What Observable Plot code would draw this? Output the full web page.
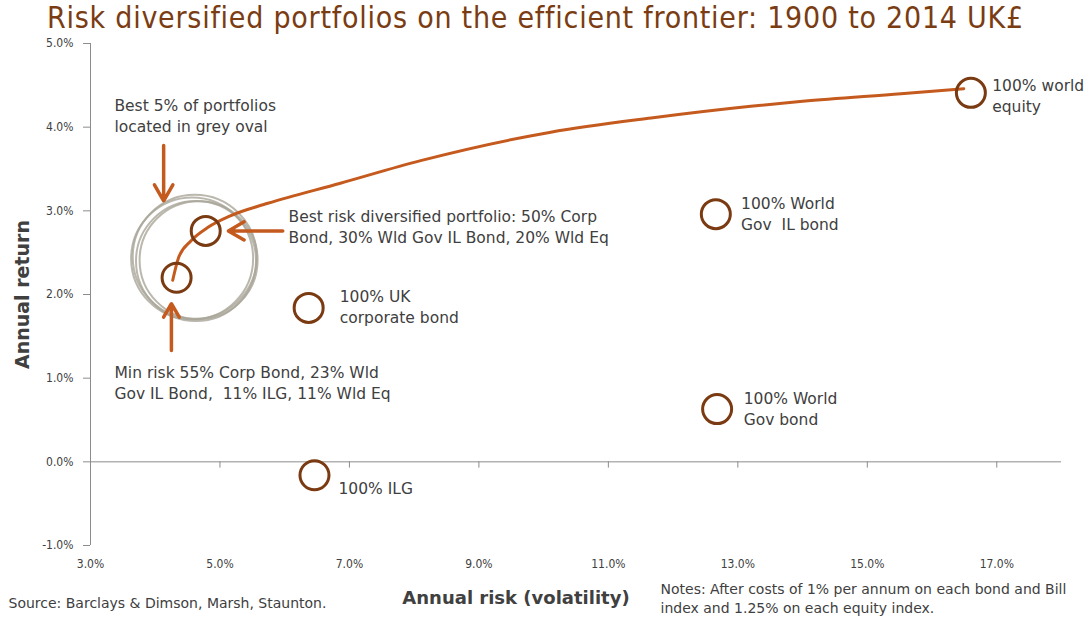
<!DOCTYPE html>
<html><head><meta charset="utf-8">
<script src="https://cdn.jsdelivr.net/npm/d3@7"></script>
<script src="https://cdn.jsdelivr.net/npm/@observablehq/plot@0.6"></script>
<style>
body{margin:0;background:#fff;}
#title{height:30px;box-sizing:border-box;padding:3px 0 0 47px;font-family:'DejaVu Sans Condensed','DejaVu Sans',sans-serif;font-size:30px;letter-spacing:0.75px;line-height:30px;color:#7a3c12;white-space:nowrap;overflow:visible;}
</style></head><body>
<div id="title">Risk diversified portfolios on the efficient frontier: 1900 to 2014 UK£</div>
<div id="chart"></div>
<script>
// Portfolios (annual risk %, annual return %)
const portfolioNames = ["100% world equity", "100% World Gov IL bond", "100% UK corporate bond", "100% World Gov bond", "100% ILG", "Best risk diversified", "Min risk"];
const portfolioRisk = [16.60, 12.66, 6.37, 12.68, 6.46, 4.78, 4.33];
const portfolioReturn = [4.41, 2.96, 1.84, 0.63, -0.16, 2.76, 2.20];

// Efficient frontier
const frontierRisk = [4.27, 4.36, 4.55, 4.81, 5.16, 5.74, 6.86, 8.10, 10.11, 11.66, 13.20, 14.00, 15.52, 16.49];
const frontierReturn = [2.17, 2.44, 2.64, 2.80, 2.94, 3.09, 3.33, 3.60, 3.94, 4.11, 4.25, 4.31, 4.40, 4.46];

// Grey oval (best 5% region) centres
const ovalRisk = [4.61, 4.67, 4.57, 4.63];
const ovalReturn = [2.45, 2.41, 2.43, 2.40];

// Annotation arrows
const arrowX1 = [4.13, 5.97, 4.25];
const arrowY1 = [3.78, 2.76, 1.33];
const arrowX2 = [4.13, 5.13, 4.25];
const arrowY2 = [3.12, 2.76, 1.89];

// Labels
const labelText = [
  "Best 5% of portfolios\nlocated in grey oval",
  "Best risk diversified portfolio: 50% Corp\nBond, 30% Wld Gov IL Bond, 20% Wld Eq",
  "100% UK\ncorporate bond",
  "Min risk 55% Corp Bond, 23% Wld\nGov IL Bond,  11% ILG, 11% Wld Eq",
  "100% world\nequity",
  "100% World\nGov  IL bond",
  "100% World\nGov bond",
  "100% ILG"
];
const labelRisk = [3.37, 6.06, 6.85, 3.37, 16.93, 13.05, 13.09, 6.83];
const labelReturn = [4.375, 3.045, 2.085, 1.185, 4.615, 3.195, 0.865, -0.205];

const xTicks = [3, 5, 7, 9, 11, 13, 15, 17];
const yTicks = [-1, 0, 1, 2, 3, 4, 5];

const portfolios = portfolioNames.map((n, i) => ({name: n, x: portfolioRisk[i], y: portfolioReturn[i]}));
const frontier = frontierRisk.map((x, i) => ({x, y: frontierReturn[i]}));
const ovals = ovalRisk.map((x, i) => ({x, y: ovalReturn[i], i}));
const arrows = arrowX1.map((x1, i) => ({x1, y1: arrowY1[i], x2: arrowX2[i], y2: arrowY2[i]}));
const labels = labelText.map((t, i) => ({t, x: labelRisk[i], y: labelReturn[i]}));

const pct = d => d.toFixed(1) + "%";
const FONT = "'DejaVu Sans Condensed','DejaVu Sans',sans-serif";
const FONT2 = "'DejaVu Sans',sans-serif";
const TXT = "#404040";
const AXIS = "#8c8c8c";
const ovalR = [62, 59, 61, 60];

const chart = Plot.plot({
  width: 1085,
  height: 588,
  marginLeft: 90,
  marginRight: 24,
  marginTop: 13,
  marginBottom: 73,
  style: {fontFamily: FONT, background: "#fff", overflow: "visible"},
  x: {domain: [3, 18], axis: null},
  y: {domain: [-1, 5], axis: null},
  r: {type: "identity"},
  marks: [
    // axes lines
    Plot.ruleX([3], {stroke: AXIS, strokeWidth: 1}),
    Plot.ruleY([0], {stroke: AXIS, strokeWidth: 1}),
    Plot.ruleX(xTicks, {x: d => d, y1: 0, y2: -0.075, stroke: AXIS}),
    Plot.axisY({ticks: yTicks, tickSize: 7, tickPadding: 10, tickFormat: pct, fontSize: 12, stroke: AXIS, fill: TXT, label: null}),
    Plot.axisX({ticks: xTicks, tickSize: 0, tickPadding: 14, tickFormat: pct, fontSize: 12, fill: TXT, label: null}),
    // grey oval
    Plot.dot(ovals, {x: "x", y: "y", r: d => ovalR[d.i], stroke: "#a9a599", strokeWidth: 2, strokeOpacity: 0.8, fill: "none"}),
    // frontier
    Plot.line(frontier, {x: "x", y: "y", curve: "monotone-x", stroke: "#c55a1e", strokeWidth: 3}),
    // portfolios
    Plot.dot(portfolios, {x: "x", y: "y", r: 14.5, stroke: "#7a3a12", strokeWidth: 3, fill: "none"}),
    // arrows
    Plot.arrow(arrows, {x1: "x1", y1: "y1", x2: "x2", y2: "y2", stroke: "#c55a1e", strokeWidth: 3.5, headLength: 14}),
    // labels
    Plot.text(labels, {x: "x", y: "y", text: "t", textAnchor: "start", lineAnchor: "top", lineHeight: 1.355, fontSize: 15.5, fontFamily: FONT2, fill: TXT}),
    // axis titles
    Plot.text(["Annual return"], {frameAnchor: "left", text: d => d, rotate: -90, textAnchor: "middle", lineAnchor: "middle", dx: -68, fontSize: 19, fontWeight: "bold", fontFamily: FONT2, fill: TXT}),
    Plot.text(["Annual risk (volatility)"], {frameAnchor: "bottom", text: d => d, dx: -60, dy: 53, lineAnchor: "middle", fontSize: 18, fontWeight: "bold", fontFamily: FONT2, fill: TXT}),
    Plot.text(["Source: Barclays & Dimson, Marsh, Staunton."], {frameAnchor: "bottom-left", text: d => d, dx: -82, dy: 58, textAnchor: "start", lineAnchor: "middle", fontSize: 14, fontFamily: FONT2, fill: TXT}),
    Plot.text(["Notes: After costs of 1% per annum on each bond and Bill\nindex and 1.25% on each equity index."], {frameAnchor: "bottom-left", text: d => d, dx: 570, dy: 35, textAnchor: "start", lineAnchor: "top", lineHeight: 1.36, fontSize: 14, fontFamily: FONT2, fill: TXT})
  ]
});
document.getElementById("chart").appendChild(chart);
</script>
</body></html>
